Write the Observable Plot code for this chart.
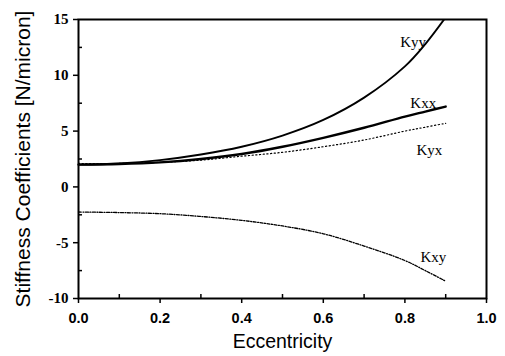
<!DOCTYPE html>
<html>
<head>
<meta charset="utf-8">
<script src="https://cdn.jsdelivr.net/npm/d3@7"></script>
<script src="https://cdn.jsdelivr.net/npm/@observablehq/plot@0.6"></script>
<style>
  html, body { margin: 0; padding: 0; background: #fff; }
  #chart svg { display: block; }
</style>
</head>
<body>
<div id="chart"></div>
<script>
// Eccentricity sample points
const ecc = [0.0, 0.1, 0.2, 0.3, 0.4, 0.5, 0.6, 0.7, 0.8, 0.85, 0.9];
// Stiffness coefficients [N/micron]
const kyy = [2.0, 2.1, 2.4, 2.9, 3.6, 4.6, 6.0, 8.0, 10.8, 12.8, 15.2];
const kxx = [2.0, 2.05, 2.2, 2.5, 2.95, 3.6, 4.4, 5.3, 6.3, 6.75, 7.2];
const kyx = [2.1, 2.1, 2.2, 2.4, 2.75, 3.1, 3.6, 4.2, 5.0, 5.35, 5.7];
const kxy = [-2.25, -2.3, -2.4, -2.65, -3.0, -3.5, -4.2, -5.3, -6.6, -7.5, -8.45];

const seriesNames = ["Kyy", "Kxx", "Kyx", "Kxy"];
const labelX = [0.82, 0.845, 0.86, 0.87];
const labelY = [13.0, 7.5, 3.3, -6.3];

const xTicks = [0.0, 0.2, 0.4, 0.6, 0.8, 1.0];
const xMinor = [0.1, 0.3, 0.5, 0.7, 0.9];
const yTicks = [-10, -5, 0, 5, 10, 15];
const yMinor = [-7.5, -2.5, 2.5, 7.5, 12.5];

const xTitle = "Eccentricity";
const yTitle = "Stiffness Coefficients [N/micron]";

const rows = (ys) => ecc.map((e, i) => ({e, v: ys[i]}));
const labels = seriesNames.map((name, i) => ({name, x: labelX[i], y: labelY[i]}));

const W = 505, H = 356, ML = 78, MR = 19, MT = 19, MB = 58;

const chart = Plot.plot({
  width: W,
  height: H,
  marginLeft: ML,
  marginRight: MR,
  marginTop: MT,
  marginBottom: MB,
  style: {background: "#fff", color: "#000"},
  x: {domain: [0, 1]},
  y: {domain: [-10, 15]},
  marks: [
    Plot.axisX({ticks: xTicks, tickFormat: d3.format(".1f"), tickSize: 5, tickPadding: 9,
      fontSize: 14.5, fontWeight: "bold", fontFamily: "Liberation Sans, Arial, sans-serif", label: null, strokeWidth: 1.5}),
    Plot.tickX(xMinor, {x: d => d, insetTop: (H - MT - MB) - 4, stroke: "#000", strokeWidth: 1.5}),
    Plot.axisY({ticks: yTicks, tickFormat: d => String(d), tickSize: 5, tickPadding: 5,
      fontSize: 15, fontWeight: "bold", fontFamily: "Liberation Serif, Times New Roman, serif", label: null, strokeWidth: 1.5}),
    Plot.tickY(yMinor, {y: d => d, insetRight: (W - ML - MR) - 4, stroke: "#000", strokeWidth: 1.5}),
    Plot.line(rows(kyy), {x: "e", y: "v", curve: "catmull-rom", stroke: "#000", strokeWidth: 1.9, clip: true}),
    Plot.line(rows(kxx), {x: "e", y: "v", curve: "catmull-rom", stroke: "#000", strokeWidth: 2.4}),
    Plot.line(rows(kyx), {x: "e", y: "v", curve: "catmull-rom", stroke: "#000", strokeWidth: 1.2, strokeDasharray: "1.2,2.5"}),
    Plot.line(rows(kxy), {x: "e", y: "v", curve: "catmull-rom", stroke: "#000", strokeWidth: 1.3, strokeDasharray: "3,1.5,1,1.5"}),
    Plot.frame({stroke: "#000", strokeWidth: 2}),
    Plot.text(labels, {x: "x", y: "y", text: "name", fontSize: 15, fontFamily: "Liberation Serif, Times New Roman, serif", fill: "#000"}),
    Plot.text([xTitle], {frameAnchor: "bottom", textAnchor: "middle", lineAnchor: "middle", dy: 43, text: d => d, fontSize: 19.5, fontFamily: "Liberation Sans, Arial, sans-serif", fill: "#000"}),
    Plot.text([yTitle], {frameAnchor: "left", textAnchor: "middle", lineAnchor: "middle", dx: -55, rotate: -90, text: d => d, fontSize: 21, fontFamily: "Liberation Sans, Arial, sans-serif", fill: "#000"})
  ]
});
document.getElementById("chart").appendChild(chart);
</script>
</body>
</html>
